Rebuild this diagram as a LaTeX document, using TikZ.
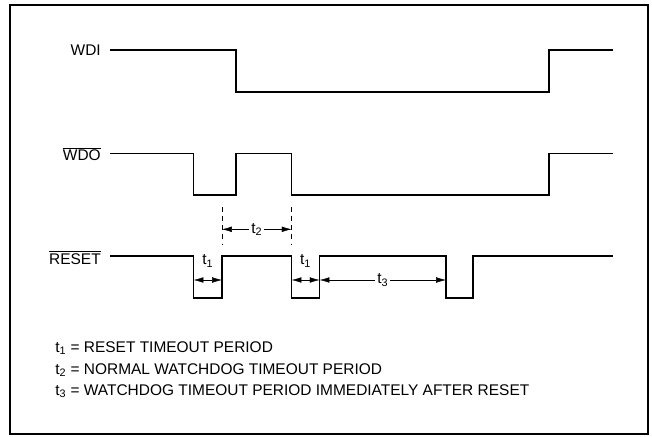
\documentclass[tikz,border=0pt]{standalone}
\usepackage{fontspec}
\setmainfont{Liberation Sans}
\usepackage{tikz}
\usetikzlibrary{arrows.meta, positioning}

\begin{document}
\begin{tikzpicture}[
            font=\fontsize{11}{13.2}\selectfont,
            frame/.style={draw, line width=1.4pt},
            wave/.style={line width=1.1pt, line join=miter},
            signal/.style={anchor=base east, inner sep=0pt},
            guide/.style={line width=0.6pt, dash pattern=on 3.6pt off 2.9pt},
            dim/.style={{Latex[length=7pt,width=4pt]}-{Latex[length=7pt,width=4pt]}, line width=0.3pt},
            tag/.style={inner sep=1.5pt, fill=white},
            legend/.style={anchor=base west, inner sep=0pt}
        ]

\useasboundingbox (0,0) rectangle (16.3,10.9);

% Outer frame
            \draw[frame] (0.25,0.05) rectangle (16.2,10.775);

% Signal names
            \node[signal] (wdi) at (2.525,9.525) {WDI};
            \node[signal] (wdo) at (2.525,6.883) {$\overline{\mbox{WDO}}$};
            \node[signal] (reset) at (2.525,4.3) {$\overline{\mbox{RESET}}$};

% Waveforms
            \draw[wave] (2.75,9.65) -- (5.9,9.65) -- (5.9,8.6) -- (13.72,8.6) -- (13.72,9.65) -- (15.325,9.65);
            \draw[wave] (2.75,7.0625) -- (4.84,7.0625) -- (4.84,6.025) -- (5.9,6.025) -- (5.9,7.0625)
                -- (7.29,7.0625) -- (7.29,6.025) -- (13.72,6.025) -- (13.72,7.0625) -- (15.325,7.0625);
            \draw[wave] (2.75,4.5) -- (4.84,4.5) -- (4.84,3.45) -- (5.55,3.45) -- (5.55,4.5)
                -- (7.29,4.5) -- (7.29,3.45) -- (7.99,3.45) -- (7.99,4.5) -- (11.15,4.5)
                -- (11.15,3.45) -- (11.825,3.45) -- (11.825,4.5) -- (15.325,4.5);

% Guide lines
            \coordinate (gl1) at (5.55,5.725);
            \coordinate (gl2) at (5.55,4.775);
            \coordinate (gr1) at (7.29,5.725);
            \coordinate (gr2) at (7.29,4.775);
            \draw[guide] (gl1) -- (gl2);
            \draw[guide] (gr1) -- (gr2);

% Timing arrows
            \coordinate (p2a) at (5.55,5.1675);
            \coordinate (p2b) at (7.29,5.1675);
            \draw[dim] (p2a) -- node[tag] (t2) {t\textsubscript{2}} (p2b);

            \coordinate (p1a) at (4.84,3.9);
            \coordinate (p1b) at (5.55,3.9);
            \draw[dim] (p1a) -- (p1b);
            \node (t1a) at (5.195,4.375) {t\textsubscript{1}};

            \coordinate (q1a) at (7.29,3.9);
            \coordinate (q1b) at (7.99,3.9);
            \draw[dim] (q1a) -- (q1b);
            \node (t1b) at (7.64,4.375) {t\textsubscript{1}};

            \coordinate (p3a) at (7.99,3.9);
            \coordinate (p3b) at (11.15,3.9);
            \draw[dim] (p3a) -- node[tag] (t3) {t\textsubscript{3}} (p3b);

% Legend
            \node[legend] (leg1) at (1.375,2.1) {t\textsubscript{1} = RESET TIMEOUT PERIOD};
            \node[legend] (leg2) at (1.375,1.55) {t\textsubscript{2} = NORMAL WATCHDOG TIMEOUT PERIOD};
            \node[legend] (leg3) at (1.375,1.025) {t\textsubscript{3} = WATCHDOG TIMEOUT PERIOD IMMEDIATELY AFTER RESET};

        \end{tikzpicture}
\end{document}
